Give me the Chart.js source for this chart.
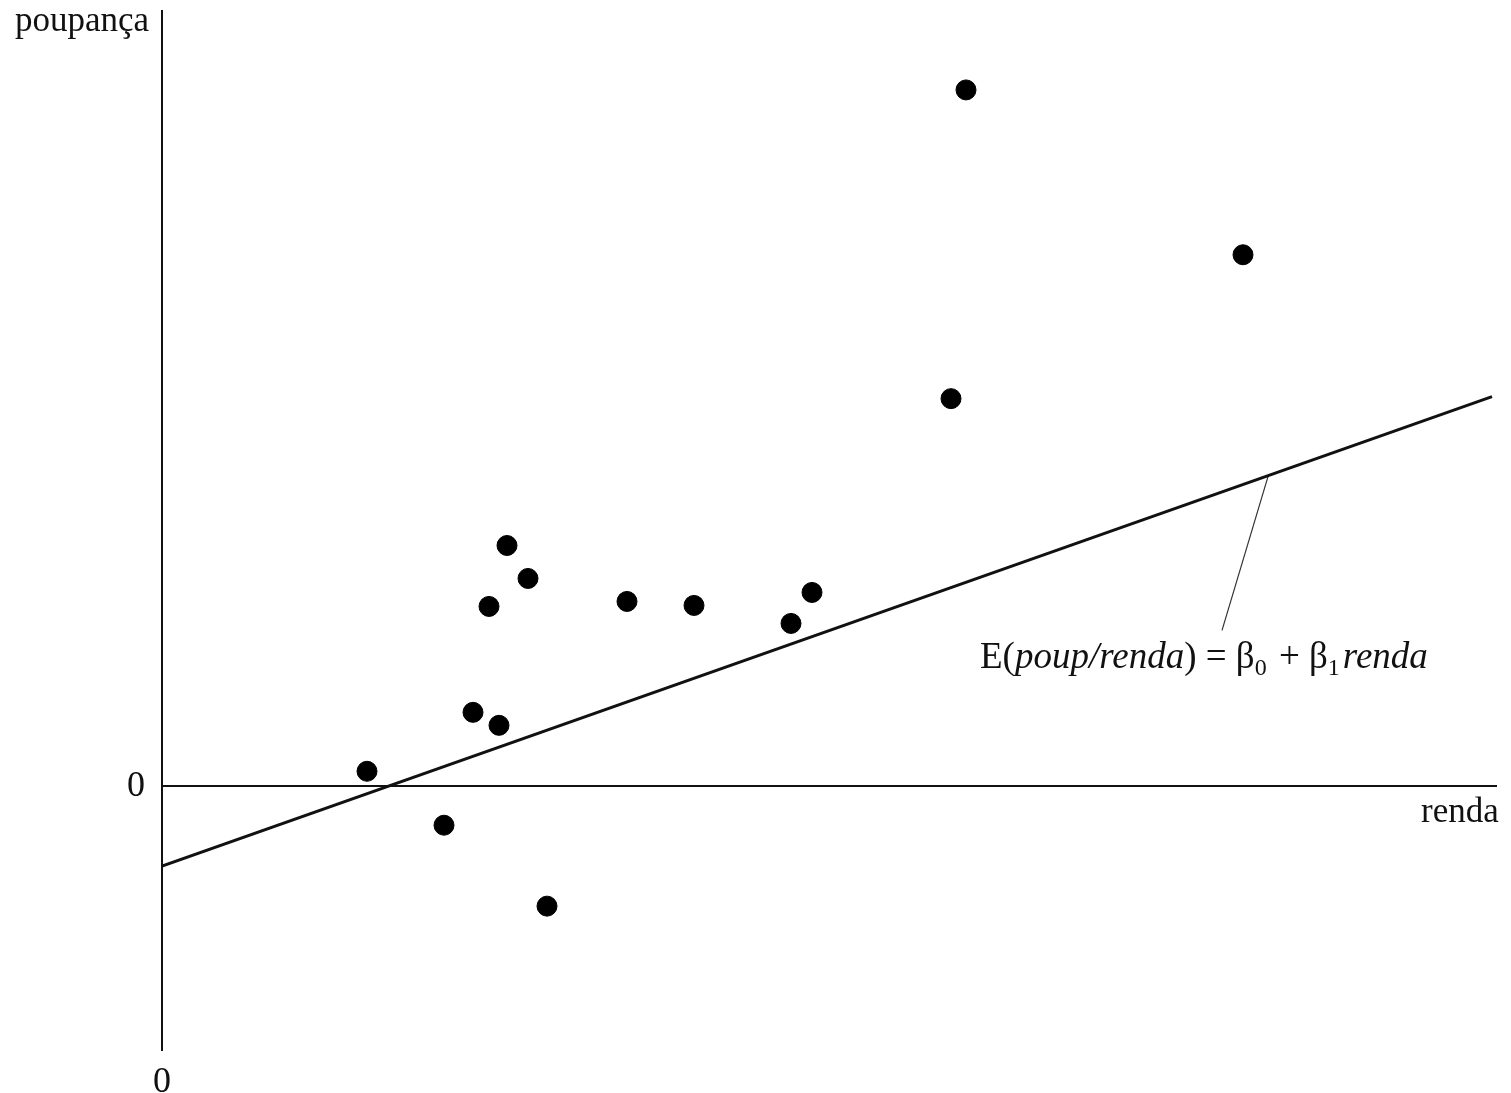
<!DOCTYPE html>
<html>
<head>
<meta charset="utf-8">
<script src="https://cdn.jsdelivr.net/npm/chart.js@4/dist/chart.umd.min.js"></script>
<style>
    html, body { margin: 0; padding: 0; background: #fff; }
    #grafico { display: block; }
</style>
</head>
<body>
<canvas id="grafico" width="1511" height="1093"></canvas>
<script>
// Observações (renda, poupança)
const renda = [2.05, 2.82, 3.11, 3.37, 3.27, 3.45, 3.66, 3.85, 4.65, 5.32, 6.29, 6.50, 7.89, 8.04, 10.81];
const poupanca = [0.15, -0.39, 0.74, 0.61, 1.80, 2.41, 2.08, -1.20, 1.85, 1.81, 1.63, 1.94, 3.88, 6.97, 5.32];

// Reta E(poup/renda) = b0 + b1 renda
const retaX = [0, 13.30];
const retaY = [-0.80, 3.90];

// Traço que liga o rótulo à reta
const guiaX = [11.06, 10.60];
const guiaY = [3.10, 1.56];

const ticksX = [0];
const ticksY = [0];

const SERIF = '"Liberation Serif", "DejaVu Serif", serif';

const textos = {
    id: 'textos',
    afterDraw(chart) {
        const ctx = chart.ctx;
        ctx.save();
        ctx.fillStyle = '#111';
        ctx.textBaseline = 'alphabetic';
        ctx.textAlign = 'left';
        ctx.font = '35px ' + SERIF;
        ctx.fillText('poupança', 15, 31);
        ctx.fillText('renda', 1421, 822);

        // rótulo da reta, com itálico e subscritos
        const partes = [
            { t: 'E(', st: '' },
            { t: 'poup/renda', st: 'italic ' },
            { t: ') = β', st: '' },
            { t: '0', st: '', sub: true },
            { t: ' + β', st: '' },
            { t: '1', st: '', sub: true },
            { t: 'renda', st: 'italic ' }
        ];
        let x = 980;
        const base = 668;
        partes.forEach(p => {
            const tam = p.sub ? 24 : 37;
            ctx.font = p.st + tam + 'px ' + SERIF;
            ctx.fillText(p.t, x, p.sub ? base + 7 : base);
            x += ctx.measureText(p.t).width + (p.sub ? 3 : 0);
        });
        ctx.restore();
    }
};

const ctx = document.getElementById('grafico').getContext('2d');
new Chart(ctx, {
    type: 'scatter',
    data: {
        datasets: [
            {
                label: 'observações',
                data: renda.map((r, i) => ({ x: r, y: poupanca[i] })),
                backgroundColor: '#000',
                borderColor: '#000',
                pointRadius: 10,
                pointHoverRadius: 10
            },
            {
                type: 'line',
                label: 'reta',
                data: retaX.map((r, i) => ({ x: r, y: retaY[i] })),
                borderColor: '#111',
                borderWidth: 3,
                pointRadius: 0,
                fill: false
            },
            {
                type: 'line',
                label: 'guia',
                data: guiaX.map((r, i) => ({ x: r, y: guiaY[i] })),
                borderColor: '#333',
                borderWidth: 1.2,
                pointRadius: 0,
                fill: false
            }
        ]
    },
    options: {
        responsive: false,
        animation: false,
        layout: { padding: { top: -5, right: 14, left: 0, bottom: 0 } },
        plugins: {
            legend: { display: false },
            tooltip: { enabled: false }
        },
        scales: {
            x: {
                type: 'linear',
                min: 0,
                max: 13.35,
                afterBuildTicks: s => { s.ticks = ticksX.map(v => ({ value: v })); },
                afterFit: s => { s.height = 43; s.paddingLeft = 0; s.paddingRight = 0; },
                grid: { display: false, drawTicks: false },
                border: { display: false },
                ticks: {
                    padding: 11,
                    color: '#111',
                    font: { family: SERIF, size: 36 }
                }
            },
            y: {
                type: 'linear',
                min: -2.64,
                max: 7.76,
                afterBuildTicks: s => { s.ticks = ticksY.map(v => ({ value: v })); },
                afterFit: s => { s.width = 162; s.paddingTop = 0; s.paddingBottom = 0; },
                grid: {
                    drawTicks: false,
                    color: c => c.tick && c.tick.value === 0 ? '#111' : 'rgba(0,0,0,0)',
                    lineWidth: 2
                },
                border: { display: true, color: '#111', width: 2 },
                ticks: {
                    padding: 17,
                    color: '#111',
                    font: { family: SERIF, size: 36 }
                }
            }
        }
    },
    plugins: [textos]
});
</script>
</body>
</html>
